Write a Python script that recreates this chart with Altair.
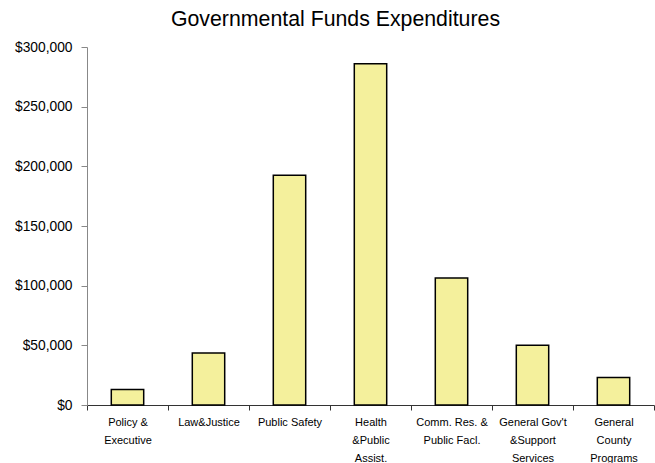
import altair as alt
import pandas as pd

categories = ["Policy &|Executive", "Law&Justice", "Public Safety", "Health|&Public|Assist.",
              "Comm. Res. &|Public Facl.", "General Gov't|&Support|Services", "General|County|Programs"]
values = [13000, 43500, 192500, 286000, 106500, 50000, 23000]

df = pd.DataFrame({"cat": categories, "val": values})

chart = alt.Chart(df).mark_bar(
    color="#F4F09C", stroke="#000000", strokeWidth=1.5, width=alt.RelativeBandSize(0.4)
).encode(
    x=alt.X("cat:N", sort=categories,
            scale=alt.Scale(paddingInner=0, paddingOuter=0),
            axis=alt.Axis(title=None, labelAngle=0, tickBand="extent",
                          labelExpr="split(datum.label, '|')",
                          labelFont="Liberation Sans", labelFontSize=11, labelColor="#000",
                          labelLineHeight=18, labelPadding=6, labelBaseline="top",
                          domainColor="#333", tickColor="#333", tickSize=5,
                          labelOverlap=False, labelLimit=200)),
    y=alt.Y("val:Q", scale=alt.Scale(domain=[0, 300000], nice=False),
            axis=alt.Axis(title=None, format="$,.0f", values=[0, 50000, 100000, 150000, 200000, 250000, 300000],
                          labelFont="Liberation Sans", labelFontSize=13.8, labelColor="#000",
                          labelPadding=9, grid=False, domainColor="#888", tickColor="#888", tickSize=6)),
).properties(
    width=567, height=358,
    title=alt.TitleParams("Governmental Funds Expenditures", font="Liberation Sans", fontSize=21.3,
                          fontWeight="normal", color="#000", anchor="middle", dx=-35, offset=10),
    autosize=alt.AutoSizeParams(type="none"),
    padding={"left": 87, "top": 47, "right": 1, "bottom": 58},
).configure_view(stroke=None)

chart.save("out.html", embed_options={"renderer": "svg", "actions": False})
